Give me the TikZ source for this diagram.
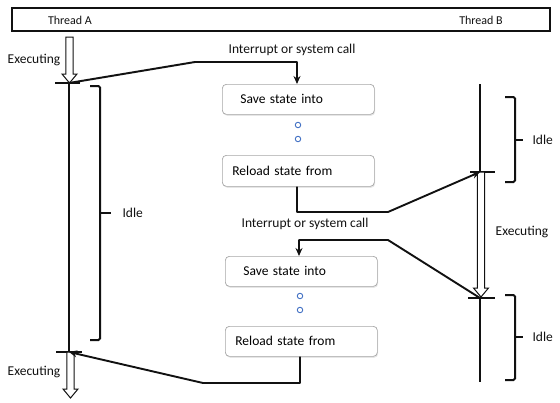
\documentclass[tikz,border=0pt]{standalone}
\usepackage{fontspec}
\setmainfont{Carlito}
\usepackage{xcolor}
\usetikzlibrary{calc,arrows.meta,shadows}
\definecolor{boxline}{HTML}{A6A6A6}
\definecolor{dotblue}{HTML}{4472C4}
\definecolor{ink}{HTML}{111111}
\tikzset{
  thread/.style={draw=ink, line width=1.5pt},
  conn/.style={draw=ink, line width=1.9pt, line join=round},
  tip/.style={-{Stealth[length=8pt,width=7pt]}},
  brace/.style={draw=ink, line width=2pt, rounded corners=1.5pt},
  hollowarr/.style={draw=ink, line width=1pt, fill=white},
  statebox/.style={draw=boxline, line width=0.7pt, rounded corners=4pt, fill=white,
    minimum width=152pt, minimum height=30pt, align=left, anchor=north west,
    font=\fontsize{13.5}{15}\selectfont,
    drop shadow={opacity=0.2, shadow xshift=0.8pt, shadow yshift=-1.4pt}},
  gapdot/.style={circle, draw=dotblue, line width=0.9pt, inner sep=0pt, minimum size=5.5pt},
  lab/.style={text=ink, font=\fontsize{13.5}{15}\selectfont},
  head/.style={text=ink, font=\fontsize{12}{14}\selectfont}
}
\begin{document}
\begin{tikzpicture}[x=1pt,y=-1pt]
  \useasboundingbox (0,0) rectangle (560,402);
  % header
  \draw[draw=ink, line width=2pt] (12,8) rectangle (550,31);
  \node[head] (thA) at (70,20) {Thread A};
  \node[head] (thB) at (481,20) {Thread B};
  % tick points on the two threads
  \coordinate (a1) at (69,83);
  \coordinate (a2) at (69,352);
  \coordinate (b1) at (480,172);
  \coordinate (b2) at (480,298);
  % thread A
  \draw[thread, line width=1.9pt] (a1) -- (a2);
  \draw[thread, line width=1.9pt] (55,83) -- (80,83);
  \draw[thread, line width=1.9pt] (56,352) -- (82,352);
  % thread B
  \draw[thread] (480,84) -- (b1);
  \draw[thread] (b2) -- (480,382);
  \draw[thread] (470,172) -- (495,172);
  \draw[thread] (468,298) -- (495,298);
  % hollow "executing" arrows
  \foreach \cx/\ya/\yb in {69.5/37/83, 70.5/352/398, 481/172/297}{
    \draw[hollowarr] (\cx-3.6,\ya) -- (\cx-3.6,\yb-9) -- (\cx-7.5,\yb-9) -- (\cx,\yb)
      -- (\cx+7.5,\yb-9) -- (\cx+3.6,\yb-9) -- (\cx+3.6,\ya) -- cycle;
  }
  \node[lab] (execA1) at (34,60) {Executing};
  \node[lab] (execA2) at (34,372) {Executing};
  \node[lab] (execB) at (522,232) {Executing};
  % idle braces
  \draw[brace] (90,86) -- (100,86) -- (100,340) -- (90,340);
  \draw[brace] (100,213) -- (111,213);
  \node[lab, anchor=west] (idleA) at (119,213) {Idle};
  \draw[brace] (505,97) -- (515,97) -- (515,182) -- (505,182);
  \draw[brace] (515,140) -- (523,140);
  \node[lab, anchor=west] (idleB1) at (529,140) {Idle};
  \draw[brace] (505,295) -- (515,295) -- (515,380) -- (505,380);
  \draw[brace] (515,337) -- (523,337);
  \node[lab, anchor=west] (idleB2) at (529,337) {Idle};
  % state boxes
  \node[statebox, inner xsep=18pt, text width=116pt] (save1) at (222,84) {Save state into};
  \node[statebox, inner xsep=10pt, text width=132pt, minimum height=31pt] (load1) at (222,155) {Reload state from};
  \node[statebox, inner xsep=18pt, text width=116pt] (save2) at (225,256) {Save state into};
  \node[statebox, inner xsep=10pt, text width=132pt] (load2) at (225,326) {Reload state from};
  \node[gapdot] (d1) at (298,125) {};
  \node[gapdot] (d2) at (298,139) {};
  \node[gapdot] (d3) at (300,296) {};
  \node[gapdot] (d4) at (300,310) {};
  % switches between the threads
  \node[lab] (irq1) at (292,50) {Interrupt or system call};
  \node[lab] (irq2) at (305,224) {Interrupt or system call};
  \draw[conn, tip] (a1) -- (195,62) -| ($(save1.north west)+(75,0)$);
  \draw[conn, tip] ($(load1.south west)+(75,0)$) |- (388,212) -- (b1);
  \draw[conn, tip] (b2) -- (388,240) -| ($(save2.north west)+(74,0)$);
  \draw[conn, tip] ($(load2.south west)+(75,0)$) |- (203,383) -- (a2);
\end{tikzpicture}
\end{document}
